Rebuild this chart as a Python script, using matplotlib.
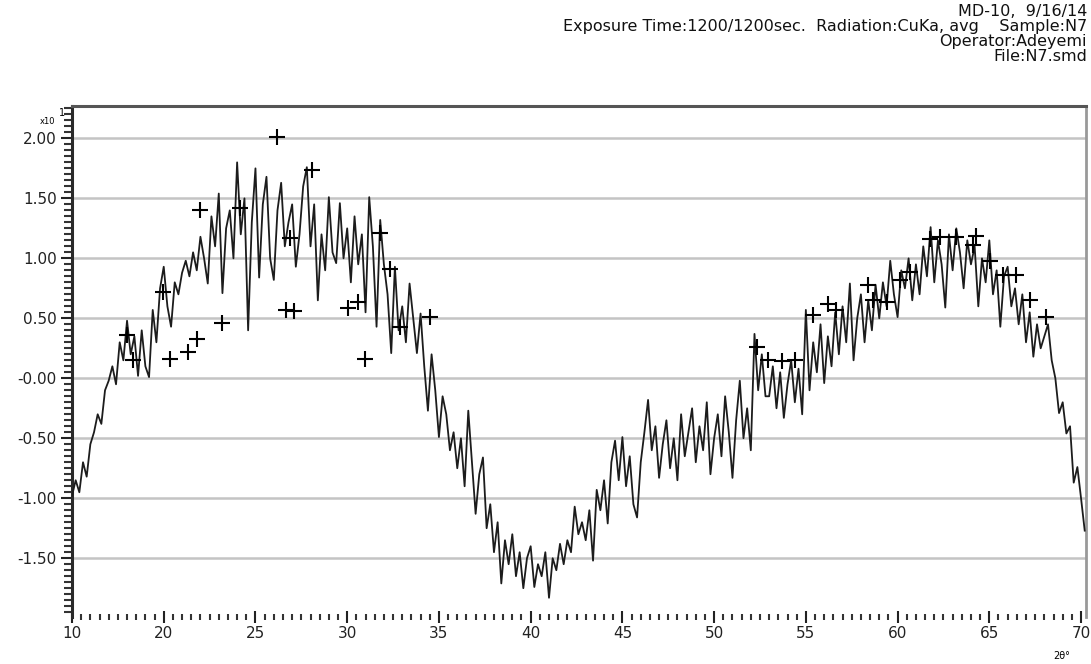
import numpy as np
import matplotlib
matplotlib.use('Agg')
import matplotlib.pyplot as plt
from matplotlib.ticker import MultipleLocator, FixedLocator

# scan: 2-theta from 15 to 70.2 step 0.2
theta_start = 15.0
theta_step = 0.2
intensity = [
    -0.98, -0.85, -0.95, -0.70, -0.82, -0.55, -0.45, -0.30, -0.38, -0.10,
    -0.02, 0.10, -0.05, 0.30, 0.15, 0.48, 0.20, 0.35, 0.02, 0.40,
    0.10, 0.01, 0.57, 0.30, 0.75, 0.93, 0.60, 0.43, 0.80, 0.70,
    0.88, 0.98, 0.85, 1.05, 0.90, 1.18, 1.00, 0.79, 1.35, 1.10,
    1.54, 0.71, 1.25, 1.40, 1.00, 1.80, 1.20, 1.50, 0.40, 1.30,
    1.75, 0.84, 1.45, 1.68, 1.00, 0.82, 1.40, 1.63, 1.10, 1.30,
    1.45, 0.93, 1.20, 1.60, 1.76, 1.10, 1.45, 0.65, 1.20, 0.90,
    1.51, 1.05, 0.96, 1.46, 1.00, 1.25, 0.80, 1.35, 0.95, 1.20,
    0.55, 1.51, 1.10, 0.43, 1.32, 0.95, 0.70, 0.21, 0.93, 0.40,
    0.60, 0.30, 0.79, 0.50, 0.21, 0.54, 0.10, -0.27, 0.20, -0.10,
    -0.49, -0.15, -0.30, -0.60, -0.45, -0.75, -0.50, -0.90, -0.27, -0.70,
    -1.13, -0.80, -0.66, -1.25, -1.05, -1.45, -1.20, -1.71, -1.35, -1.55,
    -1.30, -1.65, -1.45, -1.75, -1.50, -1.40, -1.74, -1.55, -1.65, -1.45,
    -1.83, -1.50, -1.60, -1.38, -1.55, -1.35, -1.45, -1.07, -1.30, -1.20,
    -1.35, -1.10, -1.52, -0.93, -1.10, -0.85, -1.21, -0.70, -0.52, -0.85,
    -0.49, -0.90, -0.65, -1.05, -1.16, -0.70, -0.45, -0.18, -0.60, -0.40,
    -0.83, -0.55, -0.35, -0.75, -0.50, -0.85, -0.30, -0.65, -0.45, -0.25,
    -0.70, -0.40, -0.60, -0.20, -0.80, -0.50, -0.30, -0.65, -0.15, -0.45,
    -0.83, -0.35, -0.02, -0.50, -0.25, -0.60, 0.37, -0.10, 0.20, -0.15,
    -0.15, 0.10, -0.25, 0.05, -0.33, -0.05, 0.15, -0.20, 0.08, -0.30,
    0.57, -0.10, 0.30, 0.05, 0.45, -0.04, 0.35, 0.10, 0.55, 0.20,
    0.60, 0.30, 0.79, 0.15, 0.50, 0.70, 0.30, 0.65, 0.40, 0.78,
    0.50, 0.80, 0.60, 0.98, 0.70, 0.51, 0.90, 0.75, 1.00, 0.65,
    0.95, 0.70, 1.10, 0.85, 1.26, 0.80, 1.15, 0.95, 0.59, 1.20,
    0.90, 1.25, 1.05, 0.75, 1.15, 0.95, 1.10, 0.60, 1.00, 0.80,
    1.15, 0.70, 0.90, 0.43, 0.85, 0.93, 0.60, 0.75, 0.45, 0.70,
    0.30, 0.55, 0.18, 0.45, 0.25, 0.35, 0.45, 0.15, 0.00, -0.29,
    -0.20, -0.46, -0.40, -0.87, -0.74, -1.00, -1.27,
]

# reference peak positions (+ markers)
peak_theta = [26.16, 28.06, 21.98, 24.16, 17.98, 18.34, 19.98, 20.34, 21.34, 21.80,
              23.16, 26.66, 27.10, 26.90, 30.06, 30.60, 30.97, 31.78, 32.33, 32.90,
              34.50,
              52.31, 52.95, 53.70, 54.40, 55.40, 56.20, 56.67, 58.40, 58.67,
              59.40, 60.12, 60.67, 61.76, 62.30, 63.20, 64.30, 64.10, 65.03, 65.74,
              66.48, 67.20, 68.10]
peak_int = [2.01, 1.74, 1.40, 1.42, 0.36, 0.15, 0.72, 0.16, 0.22, 0.33,
            0.46, 0.57, 0.56, 1.17, 0.59, 0.64, 0.16, 1.21, 0.91, 0.43,
            0.51,
            0.26, 0.15, 0.14, 0.15, 0.53, 0.62, 0.57, 0.78, 0.65,
            0.64, 0.82, 0.89, 1.16, 1.18, 1.18, 1.19, 1.11, 0.98, 0.86,
            0.86, 0.65, 0.51]

x_ticks = [15, 20, 25, 30, 35, 40, 45, 50, 55, 60, 65, 70]
x_labels = ['10', '20', '25', '30', '35', '40', '45', '50', '55', '60', '65', '70']
y_ticks = [2.0, 1.5, 1.0, 0.5, 0.0, -0.5, -1.0, -1.5]
y_labels = ['2.00', '1.50', '1.00', '0.50', '-0.00', '-0.50', '-1.00', '-1.50']

header = ['MD-10,  9/16/14',
          'Exposure Time:1200/1200sec.  Radiation:CuKa, avg    Sample:N7',
          'Operator:Adeyemi',
          'File:N7.smd']

plt.rcParams['font.family'] = ['DejaVu Sans']

W, H = 1091, 664
fig = plt.figure(figsize=(W / 100, H / 100), dpi=100)
ax = fig.add_axes([72 / W, (H - 617) / H, (1086 - 72) / W, (617 - 106) / H])

theta = theta_start + theta_step * np.arange(len(intensity))
ax.plot(theta, intensity, color='#1c1c1c', lw=1.3, zorder=3)
ax.plot(peak_theta, peak_int, ls='none', marker='+', ms=11, mew=1.5, color='black', zorder=4)

for yv in y_ticks:
    ax.axhline(yv, color='#c4c4c4', lw=1.8, zorder=1)

ax.set_xlim(15, 70.27)
ax.set_ylim(-1.99, 2.27)

ax.xaxis.set_major_locator(FixedLocator(x_ticks))
ax.set_xticklabels(x_labels)
ax.xaxis.set_minor_locator(MultipleLocator(0.5))
ax.yaxis.set_major_locator(FixedLocator(y_ticks))
ax.set_yticklabels(y_labels)
ax.yaxis.set_minor_locator(MultipleLocator(0.05))

ax.tick_params(axis='x', which='major', direction='inout', length=9, width=1.5, pad=2, labelsize=11, colors='#222')
ax.tick_params(axis='x', which='minor', direction='inout', length=5, width=1.5, colors='#333')
ax.tick_params(axis='y', which='major', direction='out', length=8, width=1.5, pad=3, labelsize=11, colors='#222')
ax.tick_params(axis='y', which='minor', direction='out', length=6, width=1.5, colors='#333')

ax.spines['bottom'].set_visible(False)
ax.spines['left'].set_color('#2a2a2a')
ax.spines['left'].set_linewidth(2.2)
ax.spines['top'].set_color('#555555')
ax.spines['top'].set_linewidth(2.2)
ax.spines['right'].set_color('#999999')
ax.spines['right'].set_linewidth(2)

# header block, one text so the lines sit tight like the instrument printout
fig.text(1087 / W, 1 - 4 / H, '\n'.join(header), ha='right', va='top', multialignment='right',
         fontsize=11.5, linespacing=1.0, color='#111')

fig.text(47 / W, 1 - 122 / H, 'x10', ha='center', va='center', fontsize=6)
fig.text(62 / W, 1 - 113 / H, '1', ha='center', va='center', fontsize=7)
fig.text(1062 / W, 1 - 656 / H, '2θ°', ha='center', va='center', fontsize=7)

fig.savefig('out.png', dpi=100)
